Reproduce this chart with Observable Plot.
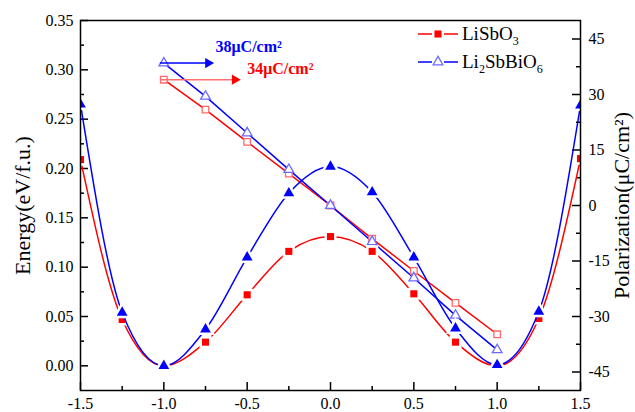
<!DOCTYPE html>
<html><head><meta charset="utf-8">
<script src="https://cdn.jsdelivr.net/npm/d3@7"></script>
<script src="https://cdn.jsdelivr.net/npm/@observablehq/plot@0.6"></script>
<style>
body{margin:0;background:#fff}
#chart svg, #chart svg text, #chart svg tspan { font-family: 'Liberation Serif','Times New Roman',serif !important; }
</style>
</head><body><div id="chart"></div>
<script>
// ---- data ----
const xEnergy = [-1.5, -1.25, -1.0, -0.75, -0.5, -0.25, 0, 0.25, 0.5, 0.75, 1.0, 1.25, 1.5];
const energyLiSbO3 = [0.209, 0.047, 0.000, 0.024, 0.072, 0.116, 0.131, 0.116, 0.073, 0.024, 0.000, 0.048, 0.210];
const energyLi2SbBiO6 = [0.265, 0.054, 0.000, 0.037, 0.110, 0.175, 0.202, 0.176, 0.110, 0.038, 0.001, 0.055, 0.264];
const xPol = [-1.0, -0.75, -0.5, -0.25, 0, 0.25, 0.5, 0.75, 1.0];
const polLiSbO3 = [34.0, 25.9, 17.2, 8.6, 0, -9.0, -17.7, -26.3, -34.8];
const polLi2SbBiO6 = [38.5, 29.5, 19.6, 9.7, 0, -9.8, -19.6, -29.7, -39.0];
const xTicks = [-1.5, -1.0, -0.5, 0.0, 0.5, 1.0, 1.5];
const xMinor = [-1.25, -0.75, -0.25, 0.25, 0.75, 1.25];
const eTicks = [0.00, 0.05, 0.10, 0.15, 0.20, 0.25, 0.30, 0.35];
const eMinor = [0.025, 0.075, 0.125, 0.175, 0.225, 0.275, 0.325];
const pTicks = [-45, -30, -15, 0, 15, 30, 45];
const pMinor = [-37.5, -22.5, -7.5, 7.5, 22.5, 37.5];
const annotations = [
  {label: "38μC/cm²", color: "#0000ff", line: "#0000ff", x1: -1.0, x2: -0.71, p: 38.5, tx: -0.69, tp: 43},
  {label: "34μC/cm²", color: "#ff0000", line: "#ff7070", x1: -1.0, x2: -0.55, p: 34.0, tx: -0.50, tp: 37}
];

// ---- layout ----
const W = 635, H = 412, mL = 80, mR = 55, mT = 20, mB = 22;
const innerW = W - mL - mR, innerH = H - mT - mB;
const eDomain = [-0.025, 0.35], pDomain = [-50, 50];
const k = (eDomain[1] - eDomain[0]) / (pDomain[1] - pDomain[0]);
const toE = p => eDomain[0] + (p - pDomain[0]) * k;
const fromE = e => pDomain[0] + (e - eDomain[0]) / k;

const RED = "#ff0000", BLUE = "#0000ff", LRED = "#ff6a6a", LBLUE = "#6a6aff";
const serif = "Liberation Serif, Times New Roman, serif";

const liE = xEnergy.map((x, i) => ({x, y: energyLiSbO3[i]}));
const biE = xEnergy.map((x, i) => ({x, y: energyLi2SbBiO6[i]}));
const liP = xPol.map((x, i) => ({x, y: toE(polLiSbO3[i])}));
const biP = xPol.map((x, i) => ({x, y: toE(polLi2SbBiO6[i])}));

const chart = Plot.plot({
  width: W, height: H,
  marginLeft: mL, marginRight: mR, marginTop: mT, marginBottom: mB,
  style: "font-size: 16px; background: white; color: black;",
  x: {domain: [-1.5, 1.5]},
  y: {domain: eDomain},
  marks: [
    Plot.axisX({ticks: xTicks, tickSize: 0, tickPadding: 7, tickFormat: d => d.toFixed(1), label: null, fontSize: 16}),
    Plot.axisY({ticks: eTicks, tickSize: 0, tickPadding: 7, tickFormat: d => d.toFixed(2), label: null, fontSize: 16}),
    Plot.axisY({ticks: pTicks.map(toE), anchor: "right", tickSize: 0, tickPadding: 8,
      tickFormat: e => String(Math.round(fromE(e))), label: null, fontSize: 16}),
    // inward ticks
    Plot.tickX(xTicks, {x: d => d, insetTop: innerH - 8, strokeWidth: 1.5}),
    Plot.tickX(xMinor, {x: d => d, insetTop: innerH - 4, strokeWidth: 1.5}),
    Plot.tickY(eTicks, {y: d => d, insetRight: innerW - 8, strokeWidth: 1.5}),
    Plot.tickY(eMinor, {y: d => d, insetRight: innerW - 4, strokeWidth: 1.5}),
    Plot.tickY(pTicks.map(toE), {y: d => d, insetLeft: innerW - 8, strokeWidth: 1.5}),
    Plot.tickY(pMinor.map(toE), {y: d => d, insetLeft: innerW - 4, strokeWidth: 1.5}),
    // polarization lines
    Plot.line(liP, {x: "x", y: "y", stroke: RED, strokeWidth: 1.5}),
    Plot.line(biP, {x: "x", y: "y", stroke: BLUE, strokeWidth: 1.5}),
    Plot.dot(liP, {x: "x", y: "y", symbol: "square", r: 3.7, stroke: LRED, fill: "white", strokeWidth: 1.3}),
    Plot.dot(biP, {x: "x", y: "y", symbol: "triangle", r: 3.6, stroke: LBLUE, fill: "white", strokeWidth: 1.3}),
    // energy curves
    Plot.line(liE, {x: "x", y: "y", curve: "monotone-x", stroke: RED, strokeWidth: 1.5, clip: true}),
    Plot.dot(liE, {x: "x", y: "y", symbol: "square", r: 4, fill: "white", stroke: "white", strokeWidth: 5, clip: true}),
    Plot.dot(liE, {x: "x", y: "y", symbol: "square", r: 4, fill: RED, clip: true}),
    Plot.line(biE, {x: "x", y: "y", curve: "monotone-x", stroke: BLUE, strokeWidth: 1.5, clip: true}),
    Plot.dot(biE, {x: "x", y: "y", symbol: "triangle", r: 4, fill: "white", stroke: "white", strokeWidth: 5, clip: true}),
    Plot.dot(biE, {x: "x", y: "y", symbol: "triangle", r: 4, fill: BLUE, clip: true}),
    // annotation arrows
    Plot.link(annotations, {x1: "x1", x2: "x2", y1: d => toE(d.p), y2: d => toE(d.p), stroke: "line", strokeWidth: 1.5, dx: -4}),
    Plot.dot(annotations, {x: "x2", y: d => toE(d.p), symbol: "triangle", rotate: 90, r: 3.8, fill: "color", dx: -4}),
    Plot.text(annotations, {x: "tx", y: d => toE(d.tp), text: "label", fill: "color", fontWeight: "bold",
      fontSize: 16, textAnchor: "start"}),
    // axis titles
    Plot.text(["Energy(eV/f.u.)"], {frameAnchor: "left", dx: -58, rotate: -90, textAnchor: "middle", text: d => d, fontSize: 22}),
    Plot.text(["Polarization(μC/cm²)"], {frameAnchor: "right", dx: 41, rotate: -90, textAnchor: "middle", text: d => d, fontSize: 22}),
    Plot.frame({stroke: "black", strokeWidth: 1.5})
  ]
});

// ---- legend ----
const svg = d3.select(chart);
const legend = svg.append("g").attr("text-anchor", "start");
const items = [
  {parts: [["LiSbO", false], ["3", true]], color: RED, y: 34, sym: d3.symbolSquare, size: 4*4*Math.PI, fill: RED, stroke: "none"},
  {parts: [["Li", false], ["2", true], ["SbBiO", false], ["6", true]], color: BLUE, y: 62, sym: d3.symbolTriangle, size: 3.6*3.6*Math.PI, fill: "white", stroke: LBLUE}
];
items.forEach(it => {
  legend.append("line").attr("x1", 418).attr("x2", 432).attr("y1", it.y).attr("y2", it.y).attr("stroke", it.color).attr("stroke-width", 1.5);
  legend.append("line").attr("x1", 444).attr("x2", 458).attr("y1", it.y).attr("y2", it.y).attr("stroke", it.color).attr("stroke-width", 1.5);
  legend.append("path").attr("d", d3.symbol(it.sym, it.size)()).attr("transform", `translate(438,${it.y})`)
    .attr("fill", it.fill).attr("stroke", it.stroke).attr("stroke-width", 1.3);
  const t = legend.append("text").attr("x", 462).attr("y", it.y + 6).attr("font-size", 19).attr("fill", "black");
  it.parts.forEach(([s, sub], i) => {
    t.append("tspan").text(s).attr("font-size", sub ? 12 : 19).attr("dy", sub ? 5 : (i === 0 ? 0 : -5));
  });
});

document.getElementById("chart").appendChild(chart);
</script>
</body></html>
